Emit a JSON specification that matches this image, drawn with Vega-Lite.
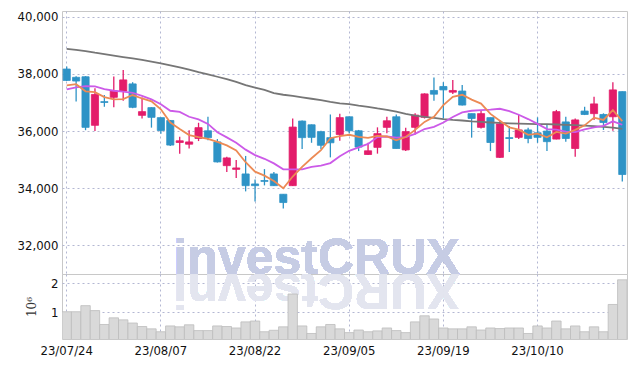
{
  "$schema": "https://vega.github.io/schema/vega-lite/v6.json",
  "padding": {"left": 16, "top": 10, "right": 8, "bottom": 5},
  "spacing": 0,
  "bounds": "flush",
  "resolve": {"scale": {"x": "shared"}},
  "config": {
    "view": {"stroke": "#c8c8c8", "strokeWidth": 1},
    "concat": {"spacing": 0},
    "axis": {"labelFont": "DejaVu Sans Condensed", "labelFontSize": 13, "labelColor": "#111111", "gridColor": "#b3b7d2", "gridDash": [2, 3], "gridWidth": 1, "domain": false, "ticks": false},
    "axisY": {"labelPadding": 4}
  },
  "datasets": {
    "d": [
      {"date": "23/07/24", "open": 38170, "high": 38260, "low": 37750, "close": 37770, "vol": 1.02, "ma5": 37600, "ma10": 37460, "ma60": 38877},
      {"date": "23/07/25", "open": 37880, "high": 37920, "low": 37030, "close": 37750, "vol": 1.02, "ma5": 37640, "ma10": 37530, "ma60": 38840},
      {"date": "23/07/26", "open": 37900, "high": 37920, "low": 36030, "close": 36130, "vol": 1.23, "ma5": 37390, "ma10": 37570, "ma60": 38800},
      {"date": "23/07/27", "open": 36200, "high": 37500, "low": 36000, "close": 37280, "vol": 1.06, "ma5": 37360, "ma10": 37560, "ma60": 38740},
      {"date": "23/07/28", "open": 37030, "high": 37260, "low": 36850, "close": 37000, "vol": 0.58, "ma5": 37190, "ma10": 37470, "ma60": 38690},
      {"date": "23/07/31", "open": 37180, "high": 37910, "low": 36830, "close": 37400, "vol": 0.81, "ma5": 37110, "ma10": 37410, "ma60": 38640},
      {"date": "23/08/01", "open": 37400, "high": 38140, "low": 37060, "close": 37790, "vol": 0.74, "ma5": 37120, "ma10": 37380, "ma60": 38590},
      {"date": "23/08/02", "open": 37650, "high": 37710, "low": 36800, "close": 36830, "vol": 0.63, "ma5": 37260, "ma10": 37340, "ma60": 38540},
      {"date": "23/08/03", "open": 36550, "high": 37170, "low": 36440, "close": 36680, "vol": 0.51, "ma5": 37140, "ma10": 37230, "ma60": 38490},
      {"date": "23/08/04", "open": 36820, "high": 36830, "low": 36120, "close": 36480, "vol": 0.43, "ma5": 37040, "ma10": 37110, "ma60": 38430},
      {"date": "23/08/07", "open": 36470, "high": 36470, "low": 35910, "close": 36020, "vol": 0.33, "ma5": 36760, "ma10": 36940, "ma60": 38370},
      {"date": "23/08/08", "open": 36370, "high": 36390, "low": 35480, "close": 35510, "vol": 0.53, "ma5": 36300, "ma10": 36710, "ma60": 38300},
      {"date": "23/08/09", "open": 35600, "high": 35800, "low": 35210, "close": 35660, "vol": 0.50, "ma5": 36070, "ma10": 36670, "ma60": 38230},
      {"date": "23/08/10", "open": 35540, "high": 36030, "low": 35390, "close": 35620, "vol": 0.57, "ma5": 35860, "ma10": 36500, "ma60": 38150},
      {"date": "23/08/11", "open": 35740, "high": 36290, "low": 35650, "close": 36120, "vol": 0.37, "ma5": 35790, "ma10": 36410, "ma60": 38060},
      {"date": "23/08/14", "open": 36010, "high": 36500, "low": 35680, "close": 35770, "vol": 0.37, "ma5": 35730, "ma10": 36250, "ma60": 37980},
      {"date": "23/08/16", "open": 35620, "high": 35720, "low": 34900, "close": 34920, "vol": 0.53, "ma5": 35620, "ma10": 35960, "ma60": 37900},
      {"date": "23/08/17", "open": 34790, "high": 35100, "low": 34570, "close": 35060, "vol": 0.51, "ma5": 35500, "ma10": 35780, "ma60": 37820},
      {"date": "23/08/18", "open": 34660, "high": 34990, "low": 34360, "close": 34710, "vol": 0.46, "ma5": 35320, "ma10": 35590, "ma60": 37720},
      {"date": "23/08/21", "open": 34500, "high": 35130, "low": 33890, "close": 34090, "vol": 0.67, "ma5": 34910, "ma10": 35350, "ma60": 37610},
      {"date": "23/08/22", "open": 34150, "high": 34310, "low": 33540, "close": 34090, "vol": 0.70, "ma5": 34580, "ma10": 35160, "ma60": 37520},
      {"date": "23/08/23", "open": 34270, "high": 34670, "low": 34100, "close": 34240, "vol": 0.33, "ma5": 34440, "ma10": 35030, "ma60": 37440},
      {"date": "23/08/24", "open": 34500, "high": 34570, "low": 34080, "close": 34090, "vol": 0.38, "ma5": 34250, "ma10": 34870, "ma60": 37330},
      {"date": "23/08/25", "open": 33790, "high": 33790, "low": 33290, "close": 33500, "vol": 0.50, "ma5": 34000, "ma10": 34660, "ma60": 37270},
      {"date": "23/08/28", "open": 34090, "high": 36440, "low": 34080, "close": 36140, "vol": 1.63, "ma5": 34410, "ma10": 34660, "ma60": 37230},
      {"date": "23/08/29", "open": 36350, "high": 36370, "low": 35370, "close": 35770, "vol": 0.53, "ma5": 34750, "ma10": 34660, "ma60": 37180},
      {"date": "23/08/30", "open": 36220, "high": 36230, "low": 35590, "close": 35780, "vol": 0.27, "ma5": 35050, "ma10": 34750, "ma60": 37130},
      {"date": "23/08/31", "open": 35980, "high": 36010, "low": 35370, "close": 35500, "vol": 0.50, "ma5": 35330, "ma10": 34790, "ma60": 37080},
      {"date": "23/09/01", "open": 35770, "high": 36580, "low": 35080, "close": 35590, "vol": 0.58, "ma5": 35750, "ma10": 34880, "ma60": 37020},
      {"date": "23/09/04", "open": 35880, "high": 36610, "low": 35660, "close": 36470, "vol": 0.43, "ma5": 35820, "ma10": 35120, "ma60": 36970},
      {"date": "23/09/05", "open": 36500, "high": 36510, "low": 35920, "close": 36010, "vol": 0.30, "ma5": 35870, "ma10": 35310, "ma60": 36940},
      {"date": "23/09/06", "open": 36010, "high": 36040, "low": 35300, "close": 35440, "vol": 0.39, "ma5": 35800, "ma10": 35430, "ma60": 36890},
      {"date": "23/09/07", "open": 35180, "high": 35590, "low": 35160, "close": 35310, "vol": 0.33, "ma5": 35760, "ma10": 35550, "ma60": 36850},
      {"date": "23/09/08", "open": 35430, "high": 36130, "low": 35210, "close": 35910, "vol": 0.36, "ma5": 35830, "ma10": 35790, "ma60": 36790},
      {"date": "23/09/11", "open": 36130, "high": 36500, "low": 35920, "close": 36360, "vol": 0.46, "ma5": 35810, "ma10": 35810, "ma60": 36740},
      {"date": "23/09/12", "open": 36500, "high": 36580, "low": 35390, "close": 35390, "vol": 0.37, "ma5": 35680, "ma10": 35770, "ma60": 36680},
      {"date": "23/09/13", "open": 35340, "high": 36120, "low": 35300, "close": 35980, "vol": 0.30, "ma5": 35790, "ma10": 35790, "ma60": 36600},
      {"date": "23/09/14", "open": 36130, "high": 36620, "low": 35880, "close": 36560, "vol": 0.67, "ma5": 36040, "ma10": 35900, "ma60": 36540},
      {"date": "23/09/15", "open": 36480, "high": 37320, "low": 36440, "close": 37300, "vol": 0.88, "ma5": 36320, "ma10": 36070, "ma60": 36500},
      {"date": "23/09/18", "open": 37420, "high": 37870, "low": 37060, "close": 37290, "vol": 0.77, "ma5": 36500, "ma10": 36150, "ma60": 36460},
      {"date": "23/09/19", "open": 37560, "high": 37710, "low": 36440, "close": 37440, "vol": 0.46, "ma5": 36910, "ma10": 36300, "ma60": 36420},
      {"date": "23/09/20", "open": 37360, "high": 37790, "low": 37300, "close": 37420, "vol": 0.43, "ma5": 37200, "ma10": 36490, "ma60": 36390},
      {"date": "23/09/21", "open": 37400, "high": 37610, "low": 36890, "close": 36910, "vol": 0.43, "ma5": 37270, "ma10": 36650, "ma60": 36370},
      {"date": "23/09/22", "open": 36610, "high": 36610, "low": 35770, "close": 36440, "vol": 0.50, "ma5": 37100, "ma10": 36710, "ma60": 36340},
      {"date": "23/09/25", "open": 36130, "high": 36740, "low": 36090, "close": 36610, "vol": 0.39, "ma5": 36960, "ma10": 36730, "ma60": 36320},
      {"date": "23/09/26", "open": 36470, "high": 36470, "low": 35300, "close": 35600, "vol": 0.46, "ma5": 36600, "ma10": 36750, "ma60": 36300},
      {"date": "23/09/27", "open": 35080, "high": 36390, "low": 35060, "close": 36250, "vol": 0.44, "ma5": 36360, "ma10": 36780, "ma60": 36285},
      {"date": "23/10/04", "open": 35770, "high": 36180, "low": 35270, "close": 35740, "vol": 0.46, "ma5": 36130, "ma10": 36700, "ma60": 36270},
      {"date": "23/10/05", "open": 35780, "high": 36560, "low": 35720, "close": 36040, "vol": 0.46, "ma5": 36050, "ma10": 36570, "ma60": 36260},
      {"date": "23/10/06", "open": 36040, "high": 36120, "low": 35570, "close": 35740, "vol": 0.27, "ma5": 35870, "ma10": 36420, "ma60": 36250},
      {"date": "23/10/10", "open": 35940, "high": 36480, "low": 35590, "close": 35780, "vol": 0.53, "ma5": 35910, "ma10": 36250, "ma60": 36245},
      {"date": "23/10/11", "open": 36000, "high": 36210, "low": 35300, "close": 35630, "vol": 0.46, "ma5": 35780, "ma10": 36070, "ma60": 36240},
      {"date": "23/10/12", "open": 35720, "high": 36740, "low": 35710, "close": 36680, "vol": 0.70, "ma5": 35970, "ma10": 36050, "ma60": 36230},
      {"date": "23/10/13", "open": 36320, "high": 36500, "low": 35630, "close": 35740, "vol": 0.43, "ma5": 35910, "ma10": 35980, "ma60": 36220},
      {"date": "23/10/16", "open": 35390, "high": 36440, "low": 35100, "close": 36390, "vol": 0.53, "ma5": 36040, "ma10": 35960, "ma60": 36210},
      {"date": "23/10/17", "open": 36700, "high": 36850, "low": 36560, "close": 36580, "vol": 0.33, "ma5": 36200, "ma10": 36060, "ma60": 36190},
      {"date": "23/10/18", "open": 36610, "high": 37200, "low": 36390, "close": 36950, "vol": 0.50, "ma5": 36470, "ma10": 36130, "ma60": 36170},
      {"date": "23/10/19", "open": 36580, "high": 36620, "low": 36040, "close": 36300, "vol": 0.33, "ma5": 36390, "ma10": 36180, "ma60": 36150},
      {"date": "23/10/20", "open": 36500, "high": 37710, "low": 36010, "close": 37440, "vol": 1.27, "ma5": 36730, "ma10": 36340, "ma60": 36120},
      {"date": "23/10/23", "open": 37380, "high": 37380, "low": 34240, "close": 34480, "vol": 2.12, "ma5": 36350, "ma10": 36220, "ma60": 36080}
    ]
  },
  "vconcat": [
    {
      "width": 565,
      "height": 263,
      "data": {"name": "d"},
      "encoding": {
        "x": {
          "field": "date", "type": "ordinal", "title": null,
          "scale": {"paddingInner": 0, "paddingOuter": 0},
          "axis": {"labels": false, "grid": true, "values": ["23/07/24", "23/08/07", "23/08/22", "23/09/05", "23/09/19", "23/10/10"]}
        }
      },
      "layer": [
        {
          "mark": {"type": "rule", "strokeWidth": 1.3},
          "encoding": {
            "y": {"field": "low", "type": "quantitative", "title": null,
                  "scale": {"domain": [31000, 40200], "nice": false, "zero": false},
                  "axis": {"values": [32000, 34000, 36000, 38000, 40000], "labelExpr": "format(datum.value, ',')", "grid": true}},
            "y2": {"field": "high"},
            "color": {"condition": {"test": "datum.close >= datum.open", "value": "#e31c6a"}, "value": "#2e93c6"}
          }
        },
        {
          "mark": {"type": "bar", "width": {"band": 0.76}, "strokeWidth": 0.8},
          "encoding": {
            "y": {"field": "open", "type": "quantitative", "title": null,
                  "axis": {"values": [32000, 34000, 36000, 38000, 40000], "labelExpr": "format(datum.value, ',')", "grid": true}},
            "y2": {"field": "close"},
            "color": {"condition": {"test": "datum.close >= datum.open", "value": "#e31c6a"}, "value": "#2e93c6"},
            "stroke": {"condition": {"test": "datum.close >= datum.open", "value": "#e31c6a"}, "value": "#2e93c6"}
          }
        },
        {
          "mark": {"type": "line", "color": "#767676", "strokeWidth": 1.8},
          "encoding": {"y": {"field": "ma60", "type": "quantitative", "title": null}}
        },
        {
          "mark": {"type": "line", "color": "#cc5ae8", "strokeWidth": 1.8},
          "encoding": {"y": {"field": "ma10", "type": "quantitative", "title": null}}
        },
        {
          "mark": {"type": "line", "color": "#ec8a55", "strokeWidth": 1.8},
          "encoding": {"y": {"field": "ma5", "type": "quantitative", "title": null}}
        },
        {
          "mark": {"type": "text", "text": "investCRUX", "font": "Liberation Sans", "fontWeight": "bold", "fontSize": 50, "color": "#c6cce4", "opacity": 0.85, "baseline": "alphabetic", "align": "center", "dx": 5},
          "encoding": {
            "x": {"datum": "23/08/30", "type": "ordinal"},
            "y": {"datum": 31000, "type": "quantitative", "title": null,
                  "axis": {"values": [32000, 34000, 36000, 38000, 40000], "labelExpr": "format(datum.value, ',')", "grid": true}}
          }
        }
      ]
    },
    {
      "width": 565,
      "height": 65,
      "data": {"name": "d"},
      "encoding": {
        "x": {
          "field": "date", "type": "ordinal", "title": null,
          "scale": {"paddingInner": 0, "paddingOuter": 0},
          "axis": {"labelAngle": 0, "labelPadding": 5, "grid": true, "values": ["23/07/24", "23/08/07", "23/08/22", "23/09/05", "23/09/19", "23/10/10"]}
        }
      },
      "layer": [
        {
          "mark": {"type": "text", "text": "XURCtsevni", "font": "Liberation Sans", "fontWeight": "bold", "fontSize": 50, "color": "#e3e5ef", "opacity": 0.6, "baseline": "alphabetic", "align": "center", "angle": 180, "dx": -5},
          "encoding": {
            "x": {"datum": "23/08/30", "type": "ordinal"},
            "y": {"datum": 2.32, "type": "quantitative", "title": "10⁶",
                  "scale": {"domain": [0.08, 2.32], "nice": false, "zero": false},
                  "axis": {"values": [1, 2], "grid": true, "titleFont": "DejaVu Serif", "titleFontWeight": "normal", "titleFontSize": 12, "titleColor": "#333333", "titlePadding": 12}}
          }
        },
        {
          "mark": {"type": "bar", "width": {"band": 1}, "fill": "#d9d9d9", "stroke": "#bdbdbd", "strokeWidth": 0.8, "clip": true},
          "encoding": {
            "y": {"field": "vol", "type": "quantitative", "title": "10⁶",
                  "scale": {"domain": [0.08, 2.32], "nice": false, "zero": false},
                  "axis": {"values": [1, 2], "grid": true, "titleFont": "DejaVu Serif", "titleFontWeight": "normal", "titleFontSize": 12, "titleColor": "#333333", "titlePadding": 12}}
          }
        }
      ]
    }
  ]
}
